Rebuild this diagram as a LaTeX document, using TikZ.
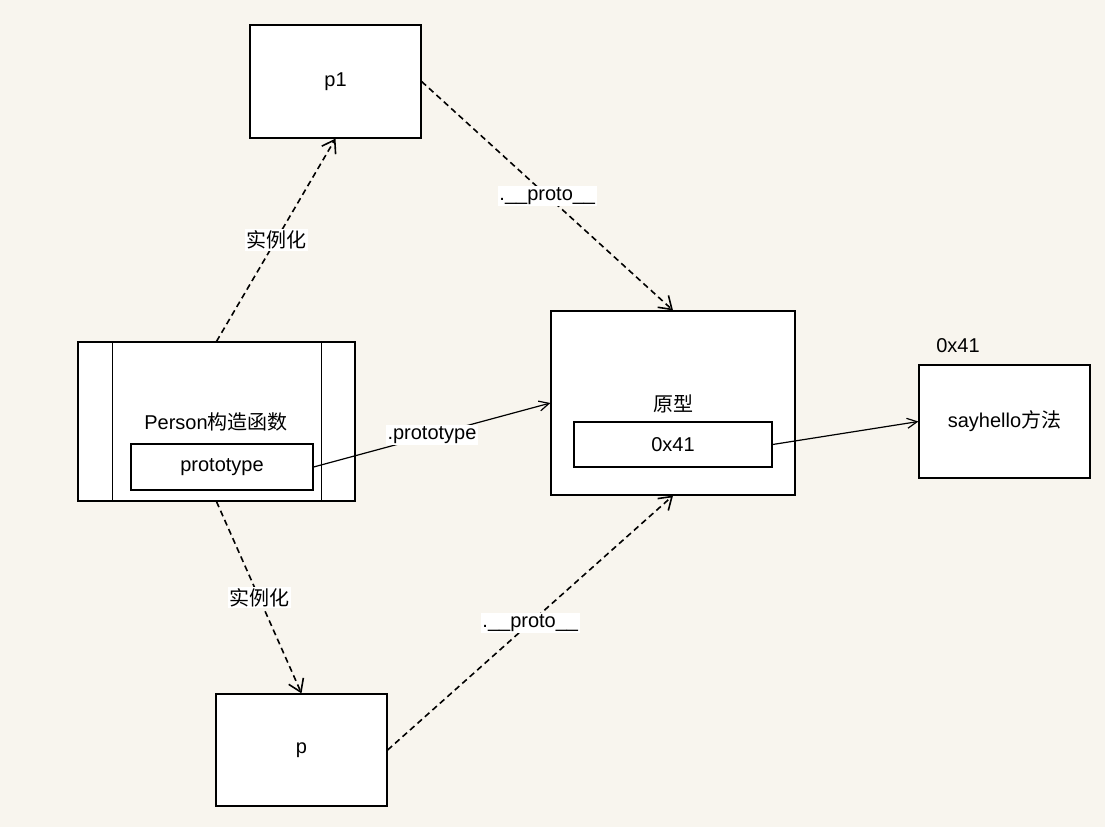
\documentclass[tikz,border=0pt]{standalone}
\usepackage{fontspec}
\setmainfont{Liberation Sans}
\newfontfamily\cjk{Noto Sans CJK SC}
\usetikzlibrary{arrows.meta,calc}
\definecolor{paper}{RGB}{248,245,238}
\tikzset{
  box/.style={draw=black, line width=1.2pt, fill=white, inner sep=0pt},
  lbl/.style={fill=white, inner sep=1.5pt, font=\fontsize{20}{23}\selectfont},
  link/.style={line width=1.2pt, -{Straight Barb[length=10pt,width=10pt]}},
  inst/.style={line width=1.6pt, dash pattern=on 6pt off 4pt,
               -{Straight Barb[length=12pt,width=16pt]}},
}
\begin{document}
\begin{tikzpicture}[x=1pt,y=-1pt,font=\fontsize{20}{23}\selectfont]
  \fill[paper] (0,0) rectangle (1105,827);

  % instance boxes
  \node[box, minimum width=171pt, minimum height=113pt] (p1) at (335.5,81.5) {p1};
  \node[box, minimum width=171pt, minimum height=112pt] (p) at (301.5,750) {p};

  % constructor
  \node[box, minimum width=277pt, minimum height=159pt] (person) at (216.5,421.5) {};
  \draw[line width=1.2pt] ($(person.north west)+(35,0)$) -- ($(person.south west)+(35,0)$);
  \draw[line width=1.2pt] ($(person.north east)+(-34,0)$) -- ($(person.south east)+(-34,0)$);
  \node (ptitle) at (216,422) {Person{\cjk 构造函数}};
  \node[box, minimum width=182pt, minimum height=46pt] (pslot) at (222,467) {prototype};

  % prototype object
  \node[box, minimum width=244pt, minimum height=184pt] (proto) at (673,403) {};
  \node (protitle) at (673,404) {\cjk 原型};
  \node[box, minimum width=198pt, minimum height=45pt] (addr) at (673,444.5) {0x41};

  % method
  \node[box, minimum width=171pt, minimum height=113pt] (say) at (1004.5,421.5) {sayhello{\cjk 方法}};
  \node (sayaddr) at (958,346) {0x41};

  % connectors
  \draw[inst] (person.north) -- node[lbl] (l1) {\cjk 实例化} (p1.south);
  \draw[inst] (person.south) -- node[lbl] (l2) {\cjk 实例化} (p.north);
  \draw[inst] (p1.east) -- node[lbl] (l3) {.\_\_proto\_\_} (proto.north);
  \draw[inst] (p.east) -- node[lbl] (l4) {.\_\_proto\_\_} (proto.south);
  \draw[link] (pslot.east) -- node[lbl] (l5) {.prototype} (proto.west);
  \draw[link] (addr.east) -- (say.west);
\end{tikzpicture}
\end{document}
